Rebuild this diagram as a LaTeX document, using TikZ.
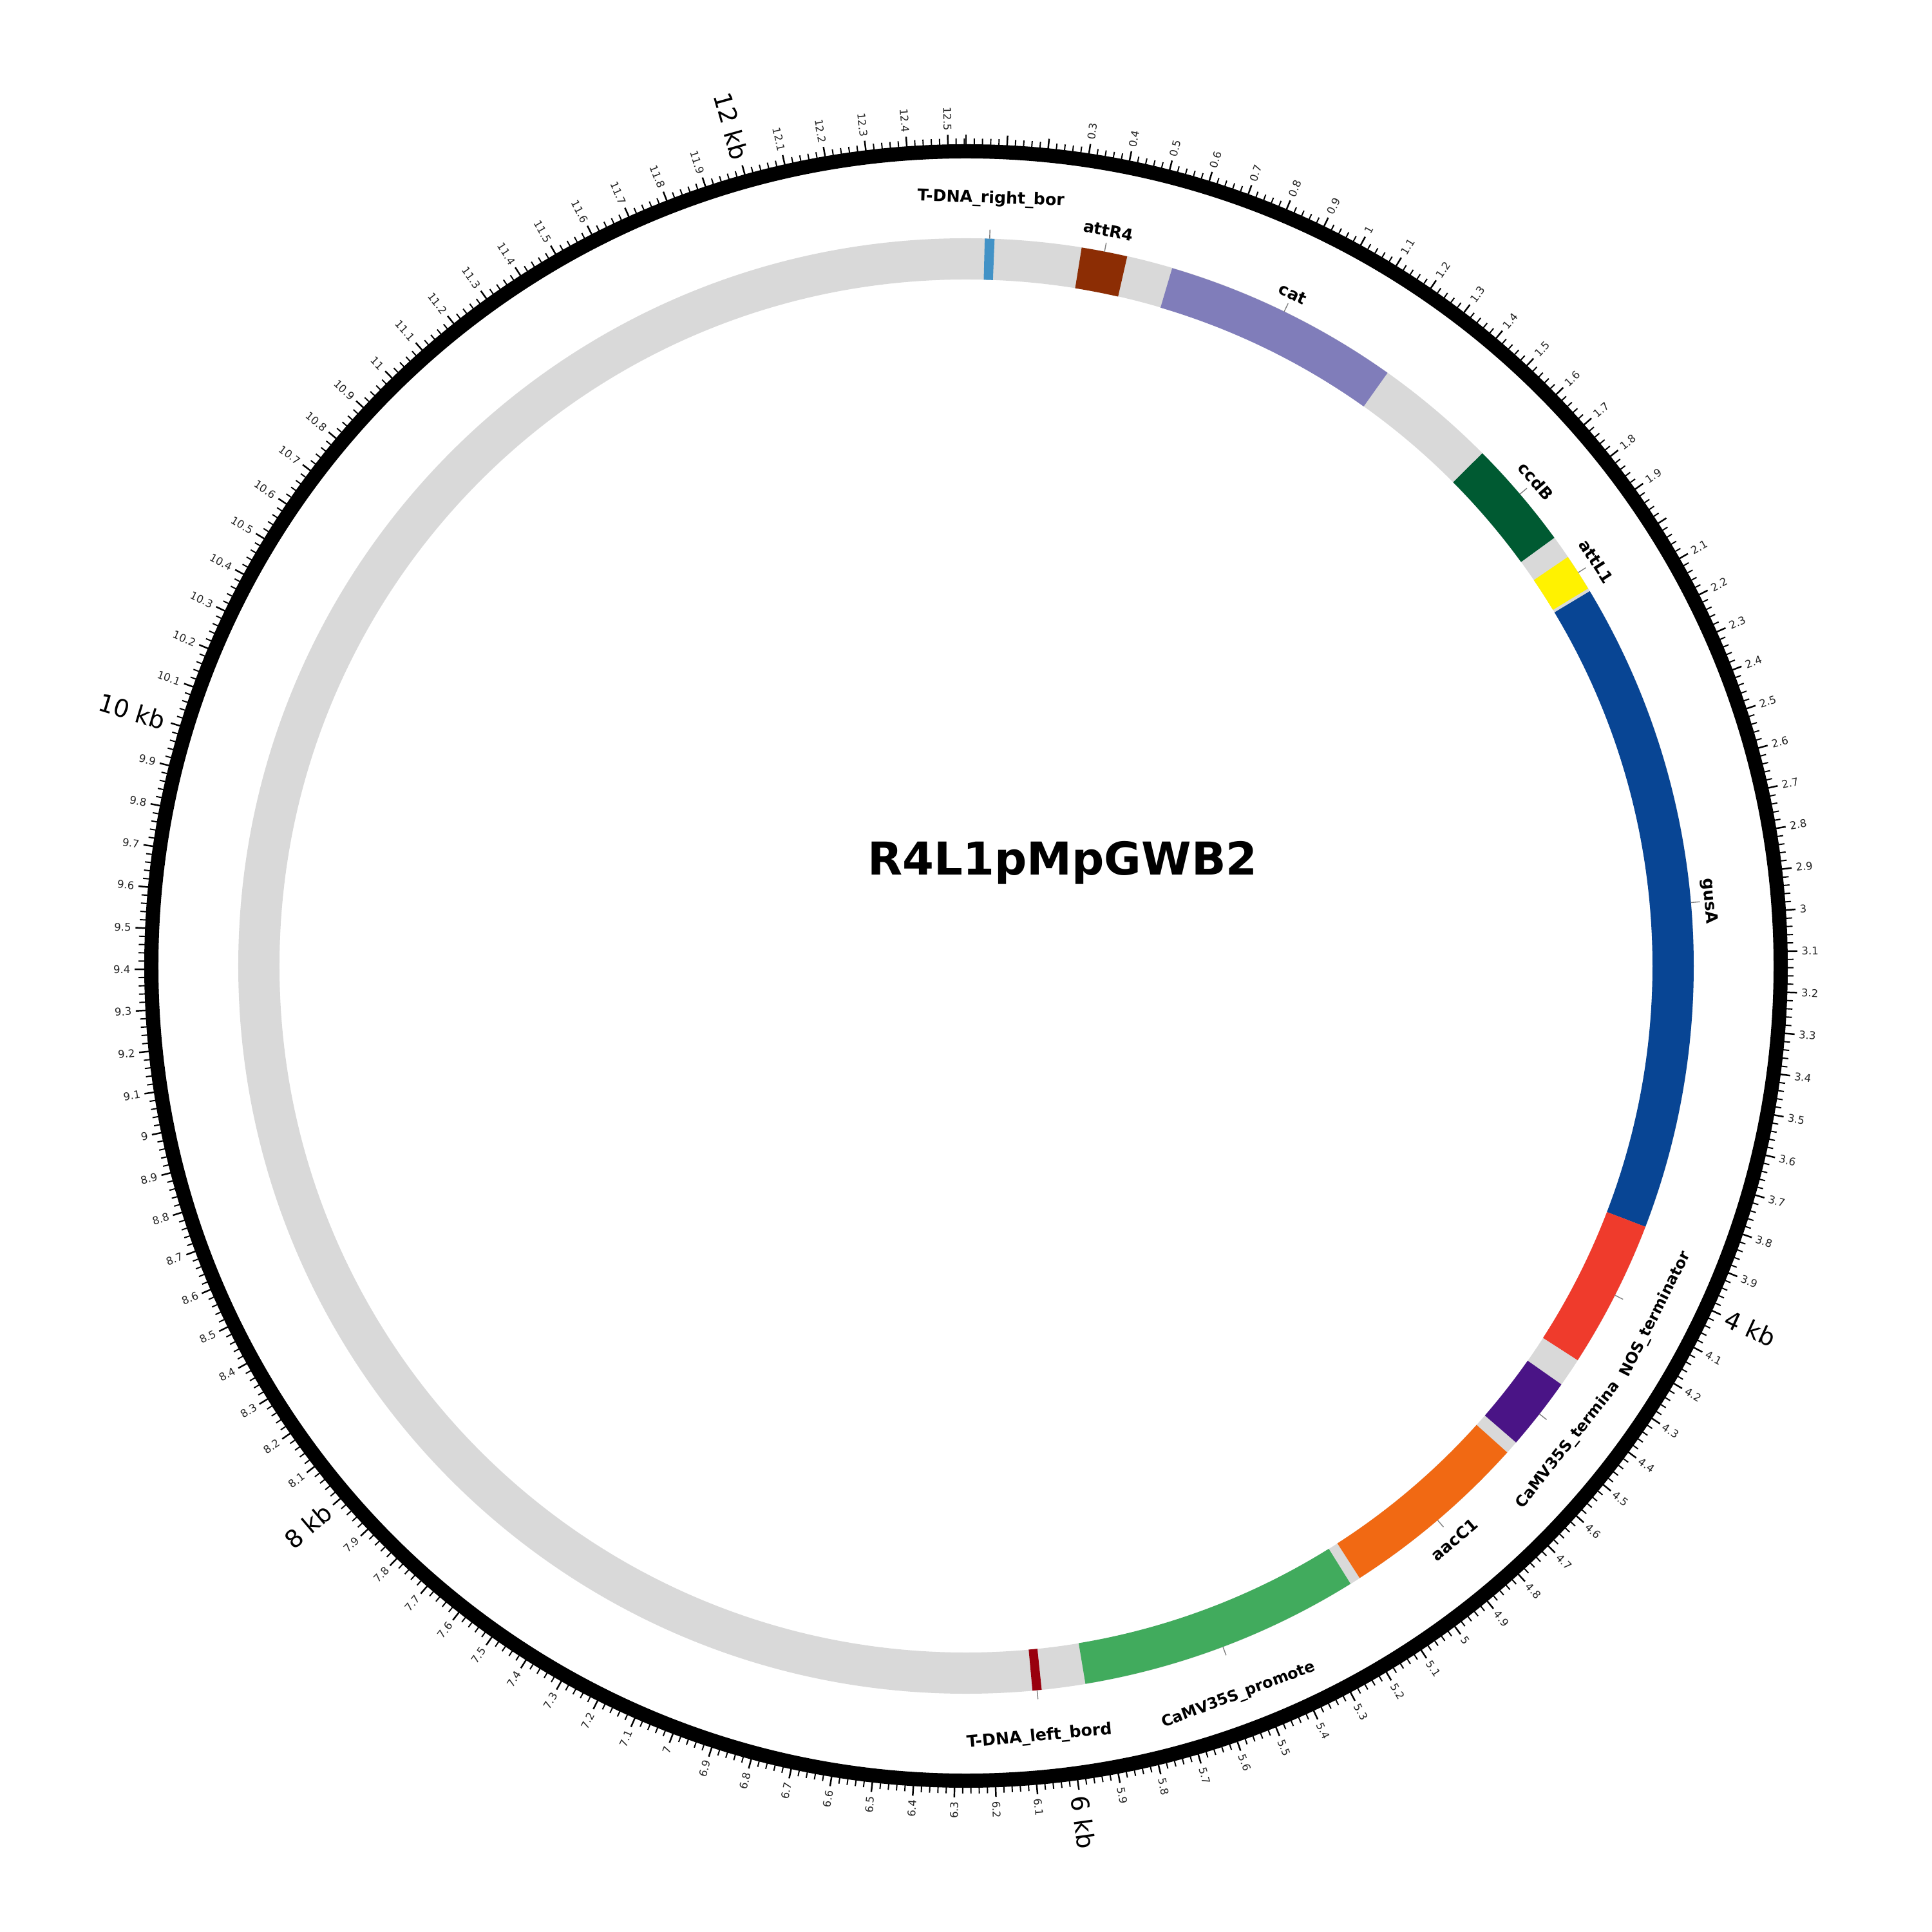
\documentclass[tikz,border=0pt]{standalone}
\usepackage{fontspec}
\setmainfont{DejaVu Sans}
\definecolor{backbone}{HTML}{D9D9D9}
\definecolor{crb}{HTML}{4292C6}
\definecolor{cattr}{HTML}{8C2D04}
\definecolor{ccat}{HTML}{807DBA}
\definecolor{cccdb}{HTML}{005A32}
\definecolor{cattl}{HTML}{FFF200}
\definecolor{cgus}{HTML}{084594}
\definecolor{cnos}{HTML}{EF3B2C}
\definecolor{cterm}{HTML}{4A1486}
\definecolor{caac}{HTML}{F16913}
\definecolor{cpro}{HTML}{41AB5D}
\definecolor{clb}{HTML}{99000D}
\newcommand{\featarc}[3]{%
  \fill[#3] ({90-#1}:10.66) arc[start angle={90-#1}, end angle={90-#2}, radius=10.66]
    -- ({90-#2}:11.30) arc[start angle={90-#2}, end angle={90-#1}, radius=11.30] -- cycle;}
\newcommand{\leaderat}[1]{\draw[leader] ({90-#1}:11.30) -- ({90-#1}:11.44);}
\begin{document}
\begin{tikzpicture}[
  flab/.style={font=\fontsize{7.2pt}{8pt}\selectfont\bfseries, inner sep=0pt, text=black},
  flabs/.style={font=\fontsize{6.8pt}{8pt}\selectfont\bfseries, inner sep=0pt, text=black},
  tlab/.style={font=\fontsize{4.7pt}{5pt}\selectfont, inner sep=0pt, text=black!85},
  kblab/.style={font=\fontsize{10.8pt}{12pt}\selectfont, inner sep=0pt, text=black},
  mintick/.style={line width=0.55pt},
  majtick/.style={line width=0.7pt},
  leader/.style={draw=gray, line width=0.4pt},
]
\useasboundingbox (-15,-15) rectangle (15,15);
\fill[white] (-15,-15) rectangle (15,15);

% backbone
\fill[backbone, even odd rule] (0,0) circle (11.30) (0,0) circle (10.66);

% features (clockwise angles from top, degrees)
\featarc{1.48}{2.25}{crb}
\featarc{9.15}{12.80}{cattr}
\featarc{16.46}{35.40}{ccat}
\featarc{45.20}{53.95}{cccdb}
\featarc{55.80}{58.75}{cattl}
\featarc{59.00}{111.00}{cgus}
\featarc{111.00}{122.80}{cnos}
\featarc{125.10}{130.90}{cterm}
\featarc{131.95}{147.25}{caac}
\featarc{148.10}{170.55}{cpro}
\featarc{174.03}{174.76}{clb}

% outer scale ring
\fill[black, even odd rule] (0,0) circle (12.76) (0,0) circle (12.54);
\foreach \i in {0,...,627}{%
  \pgfmathsetmacro\tang{90-\i*7.2/12.544}%
  \pgfmathtruncatemacro\tmaj{mod(\i,5)==0 ? 1 : 0}%
  \ifnum\tmaj=1
    \draw[majtick] (\tang:12.60) -- (\tang:12.91);
  \else
    \draw[mintick] (\tang:12.60) -- (\tang:12.85);
  \fi
}

% small tick labels
\foreach \k in {3,...,125}{%
  \pgfmathtruncatemacro\kint{floor(\k/10)}%
  \pgfmathtruncatemacro\kdec{mod(\k,10)}%
  \pgfmathtruncatemacro\kskip{(\kdec==0 && mod(\kint,2)==0) ? 1 : 0}%
  \pgfmathsetmacro\kang{\k*36/12.544}%
  \ifnum\kskip=0
    \ifnum\kdec=0 \edef\ktxt{\kint}\else \edef\ktxt{\kint.\kdec}\fi
    \pgfmathtruncatemacro\kright{\kang<=180 ? 1 : 0}%
    \ifnum\kright=1
      \node[tlab, anchor=west, rotate={90-\kang}] (t\k) at ({90-\kang}:12.97) {\ktxt};
    \else
      \node[tlab, anchor=east, rotate={270-\kang}] (t\k) at ({90-\kang}:12.97) {\ktxt};
    \fi
  \fi
}

% kb labels
\foreach \n in {4,6,8}{%
  \pgfmathsetmacro\kang{\n*360/12.544}%
  \pgfmathtruncatemacro\kright{\kang<=180 ? 1 : 0}%
  \ifnum\kright=1
    \node[kblab, anchor=west, rotate={90-\kang}] (kb\n) at ({90-\kang}:13.0) {\n{} kb};
  \else
    \node[kblab, anchor=east, rotate={270-\kang}] (kb\n) at ({90-\kang}:13.0) {\n{} kb};
  \fi
}
\foreach \n in {10,12}{%
  \pgfmathsetmacro\kang{\n*360/12.544}%
  \node[kblab, anchor=east, rotate={270-\kang}] (kb\n) at ({90-\kang}:13.0) {\n{} kb};
}

% leaders
\leaderat{1.865}
\leaderat{10.975}
\leaderat{25.93}
\leaderat{49.575}
\leaderat{57.275}
\leaderat{85.0}
\leaderat{116.9}
\leaderat{128.0}
\leaderat{139.6}
\leaderat{159.325}
\leaderat{174.395}

% feature labels
\node[flab, rotate=-1.86] (lrb) at ({90-1.86}:11.92) {T-DNA\_right\_bor};
\node[flab, rotate=-10.97] (lattr) at ({90-10.97}:11.63) {attR4};
\node[flab, rotate=-25.93] (lcat) at ({90-25.93}:11.60) {cat};
\node[flab, rotate=-49.6] (lccdb) at ({90-49.6}:11.62) {ccdB};
\node[flab, rotate=-57.3] (lattl) at ({90-57.3}:11.63) {attL1};
\node[flab, rotate=-85] (lgus) at ({90-85}:11.58) {gusA};
\node[flabs, rotate=63.2] (lnos) at ({90-116.8}:12.00) {NOS\_terminator};
\node[flabs, rotate=51.5] (lterm) at ({90-128.5}:11.95) {CaMV35S\_termina};
\node[flab, rotate=40.4] (laac) at ({90-139.6}:11.70) {aacC1};
\node[flabs, rotate=20.5] (lpro) at ({90-159.5}:12.09) {CaMV35S\_promote};
\node[flab, rotate=5.44] (llb) at ({90-174.56}:12.02) {T-DNA\_left\_bord};

% title
\node[font=\fontsize{20pt}{24pt}\selectfont\bfseries, inner sep=0pt] (title) at (1.50,1.60) {R4L1pMpGWB2};
\end{tikzpicture}
\end{document}
